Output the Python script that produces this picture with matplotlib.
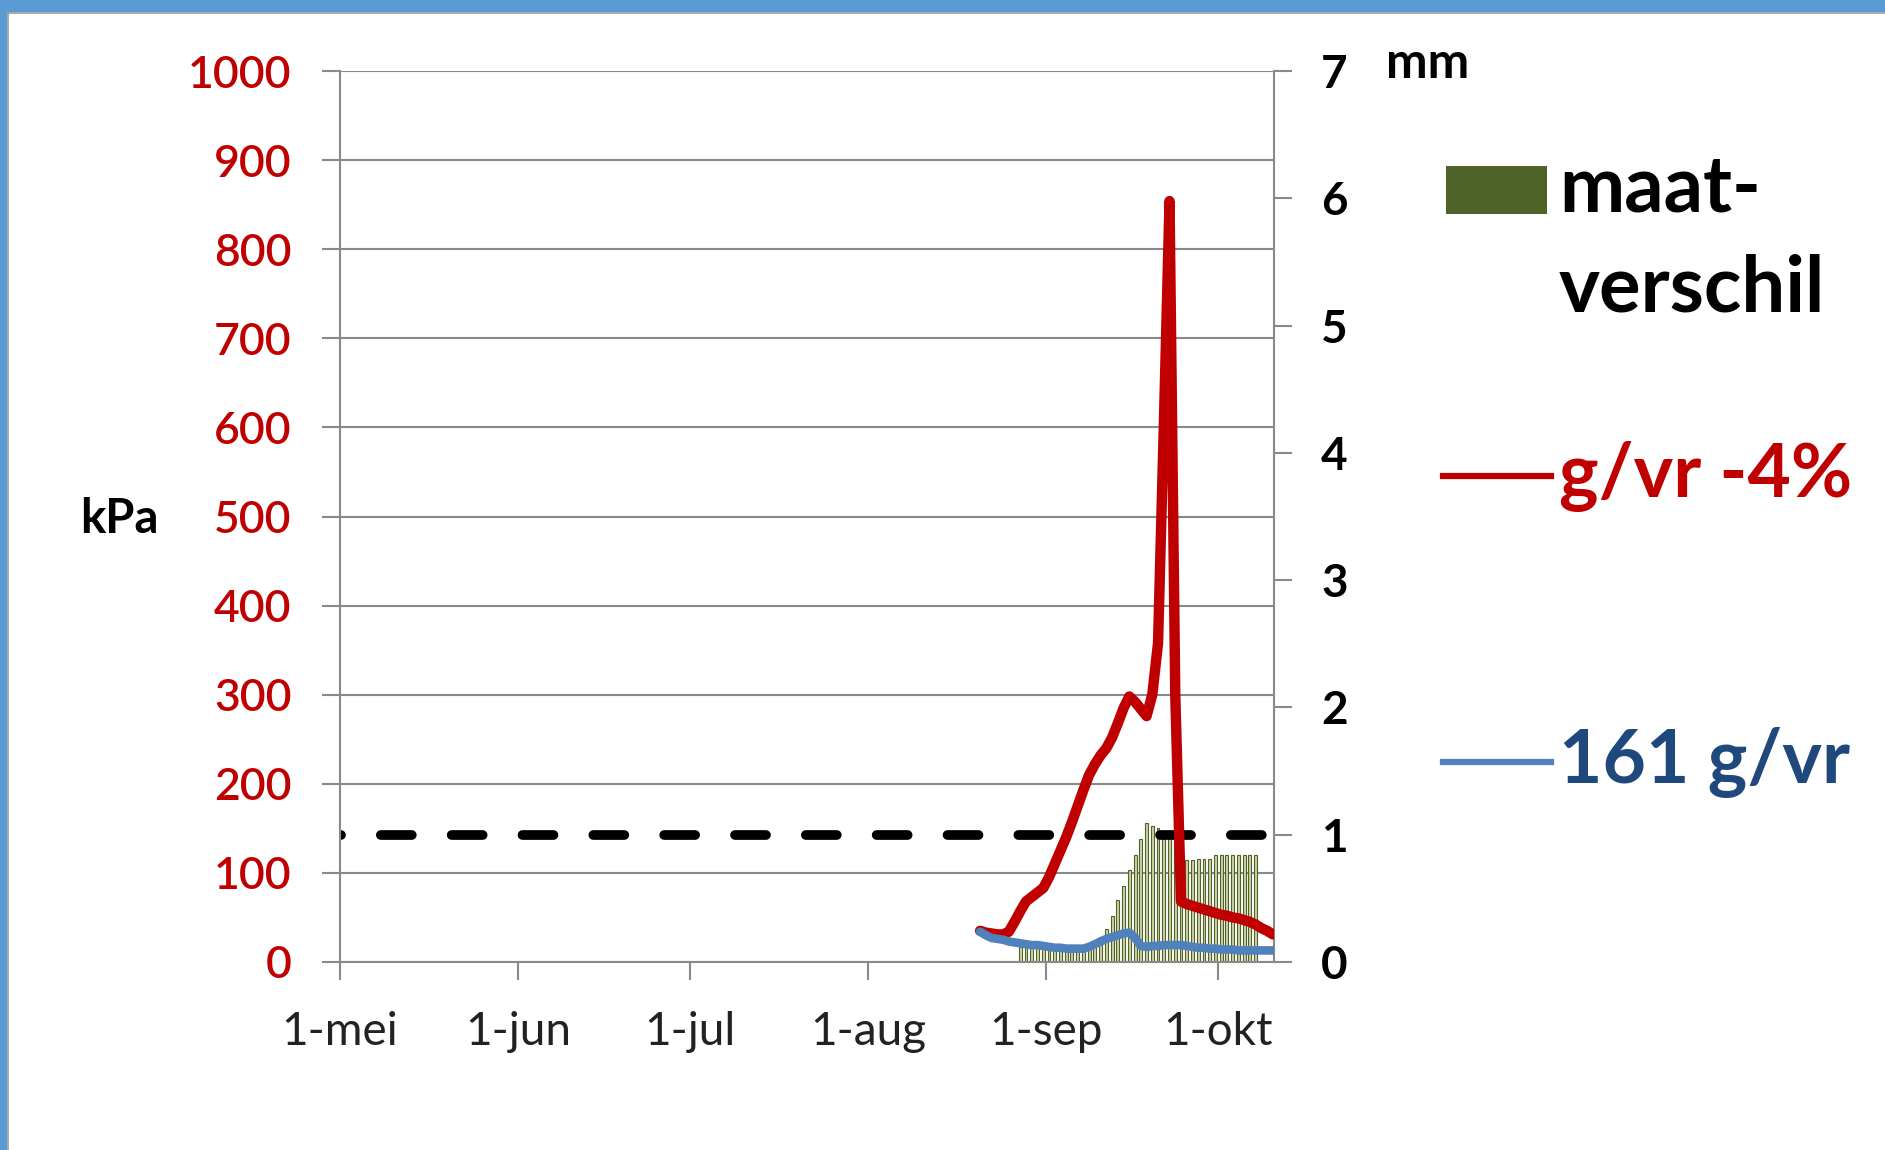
import matplotlib
matplotlib.use('Agg')
import matplotlib.pyplot as plt
from matplotlib.patches import Rectangle
from matplotlib.lines import Line2D

plt.rcParams['font.family'] = ['Lato', 'DejaVu Sans']
plt.rcParams['lines.scale_dashes'] = False

W, H = 1885, 1150

# ---------------- data ----------------
month_labels = ["1-mei", "1-jun", "1-jul", "1-aug", "1-sep", "1-okt"]
month_lengths = [31, 30, 31, 31, 30]          # mei, jun, jul, aug, sep
x_max_day = 162.7                              # ~10 okt (days after 1-mei)

kpa_ticks = [0, 100, 200, 300, 400, 500, 600, 700, 800, 900, 1000]
mm_ticks = [0, 1, 2, 3, 4, 5, 6, 7]

line_days = [111, 112, 113, 114, 115, 116, 117, 118, 119, 120,
             121, 122, 123, 124, 125, 126, 127, 128, 129, 130,
             131, 132, 133, 134, 135, 136, 137, 138, 139, 140,
             141, 142, 143, 144, 145, 146, 147, 148, 149, 150,
             151, 152, 153, 154, 155, 156, 157, 158, 159, 160,
             161, 162]
red_kpa = [35, 33, 32, 31, 31, 34, 45, 57, 68, 73,
           78, 83, 95, 110, 125, 140, 157, 175, 193, 210,
           222, 232, 240, 252, 268, 285, 298, 292, 284, 276,
           300, 358, 600, 854, 300, 68, 65, 63, 61, 59,
           57, 55, 53, 52, 50, 49, 47, 45, 42, 38,
           35, 31]
blue_kpa = [34, 30, 27, 26, 25, 23, 22, 21, 20, 19,
            19, 18, 17, 16, 16, 15, 15, 15, 15, 17,
            20, 23, 26, 28, 30, 32, 33, 27, 18, 17,
            18, 18, 19, 19, 19, 19, 18, 17, 16, 16,
            15, 15, 14, 14, 14, 13, 13, 13, 13, 13,
            13, 13]

bar_days = [118, 119, 120, 121, 122, 123, 124, 125, 126, 127,
            128, 129, 130, 131, 132, 133, 134, 135, 136, 137,
            138, 139, 140, 141, 142, 143, 144, 145, 146, 147,
            148, 149, 150, 151, 152, 153, 154, 155, 156, 157,
            158, 159]
bar_mm = [0.12, 0.12, 0.12, 0.11, 0.11, 0.11, 0.10, 0.10, 0.10, 0.10,
          0.10, 0.10, 0.12, 0.15, 0.20, 0.26, 0.36, 0.49, 0.60, 0.72,
          0.84, 0.97, 1.09, 1.07, 1.05, 1.03, 1.00, 0.97, 0.90, 0.80,
          0.80, 0.81, 0.81, 0.81, 0.84, 0.84, 0.84, 0.84, 0.84, 0.84,
          0.84, 0.84]
threshold_mm = 1.0

legend_labels = ["maat-\nverschil", "g/vr -4%", "161 g/vr"]

# ---------------- style ----------------
RED = '#C00000'
BLUE = '#4F81BD'
NAVY = '#1F497D'
OLIVE = '#4F6228'
BAR_FILL = '#CDD2A8'
GRID = '#898989'
FRAME = '#5B9BD5'

month_ticks = [0]
for m in month_lengths:
    month_ticks.append(month_ticks[-1] + m)
NOON = 0.5

fig = plt.figure(figsize=(W / 100, H / 100), dpi=100)
fig.patch.set_facecolor('white')

def fx(px):
    return px / W

def fy(py):
    return 1 - py / H

rect = [fx(340), fy(962), fx(1274) - fx(340), fy(71) - fy(962)]

# grid axes (bottom)
axg = fig.add_axes(rect, zorder=0)
axg.set_xlim(0, x_max_day)
axg.set_ylim(kpa_ticks[0], kpa_ticks[-1])
axg.set_yticks(kpa_ticks)
axg.grid(axis='y', color=GRID, lw=1.5)
axg.tick_params(left=False, bottom=False, labelleft=False, labelbottom=False)
for s in axg.spines.values():
    s.set_visible(False)

# bar axes (mm)
ax2 = fig.add_axes(rect, zorder=1)
ax2.patch.set_visible(False)
ax2.bar([d + NOON for d in bar_days], bar_mm, width=0.5, color=BAR_FILL,
        edgecolor=OLIVE, linewidth=0.8)
ax2.set_xlim(0, x_max_day)
ax2.set_ylim(mm_ticks[0], mm_ticks[-1])
ax2.yaxis.tick_right()
ax2.set_yticks(mm_ticks)
ax2.set_yticklabels([str(t) for t in mm_ticks], fontweight='bold')
ax2.tick_params(axis='y', length=13, width=1.5, color=GRID, labelcolor='black',
                labelsize=33, pad=21)
ax2.tick_params(axis='x', bottom=False, labelbottom=False)
for s in ax2.spines.values():
    s.set_visible(False)
ax2.spines['right'].set_visible(True)
ax2.spines['right'].set_color(GRID)
ax2.spines['right'].set_linewidth(1.5)

# line axes (kPa)
ax = fig.add_axes(rect, zorder=2)
ax.patch.set_visible(False)
ax.set_xlim(0, x_max_day)
ax.set_ylim(kpa_ticks[0], kpa_ticks[-1])
ax.set_yticks(kpa_ticks)
ax.set_yticklabels([str(t) for t in kpa_ticks], fontweight='semibold')
ax.tick_params(axis='y', length=13, width=1.5, color=GRID, labelcolor=RED,
               labelsize=32, pad=22)
ax.set_xticks(month_ticks)
ax.set_xticklabels(month_labels)
ax.tick_params(axis='x', length=13, width=1.5, color=GRID, labelcolor='#222222',
               labelsize=33, pad=22)
for s in ['top', 'right']:
    ax.spines[s].set_visible(False)
for s in ['left', 'bottom']:
    ax.spines[s].set_color(GRID)
    ax.spines[s].set_linewidth(1.5)

# threshold dashed line (1 mm on right axis)
ax2.axhline(threshold_mm, color='black', lw=7.0,
            linestyle=(21.6, (22.3, 28.7)), dash_capstyle='round', zorder=3)

xs = [d + NOON for d in line_days]
ax.plot(xs, red_kpa, color=RED, lw=7.5, solid_joinstyle='round',
        solid_capstyle='round', zorder=4)
ax.plot(xs, blue_kpa, color=BLUE, lw=6.2, solid_joinstyle='round',
        solid_capstyle='round', zorder=5)

# axis unit labels
fig.text(fx(119), fy(519), "kPa", fontsize=34, fontweight='bold',
         ha='center', va='center')
fig.text(fx(1386), fy(64), "mm", fontsize=36, fontweight='bold',
         ha='left', va='center')

# legend (manual)
fig.patches.append(Rectangle((fx(1446), fy(214)), fx(1547) - fx(1446),
                             fy(166) - fy(214), transform=fig.transFigure,
                             facecolor=OLIVE, edgecolor='none'))
fig.text(fx(1559), fy(190), "maat-", fontsize=56, fontweight='bold',
         ha='left', va='center', color='black')
fig.text(fx(1559), fy(289), "verschil", fontsize=56, fontweight='bold',
         ha='left', va='center', color='black')
fig.lines.append(Line2D([fx(1443), fx(1551)], [fy(476), fy(476)],
                        transform=fig.transFigure, color=RED, lw=4.5))
fig.text(fx(1559), fy(476), legend_labels[1], fontsize=54, fontweight='bold',
         ha='left', va='center', color=RED)
fig.lines.append(Line2D([fx(1443), fx(1551)], [fy(762), fy(762)],
                        transform=fig.transFigure, color=BLUE, lw=4.5))
fig.text(fx(1559), fy(762), legend_labels[2], fontsize=54, fontweight='bold',
         ha='left', va='center', color=NAVY)

# blue frame around the picture
fig.patches.append(Rectangle((0, fy(12)), 1, fy(0) - fy(12),
                             transform=fig.transFigure, facecolor=FRAME,
                             edgecolor='none'))
fig.patches.append(Rectangle((0, 0), fx(7), 1, transform=fig.transFigure,
                             facecolor=FRAME, edgecolor='none'))
fig.lines.append(Line2D([fx(7), 1], [fy(13), fy(13)], transform=fig.transFigure,
                        color='#999999', lw=1.2))
fig.lines.append(Line2D([fx(8), fx(8)], [0, fy(13)], transform=fig.transFigure,
                        color='#999999', lw=1.2))

fig.savefig('out.png', dpi=100)
